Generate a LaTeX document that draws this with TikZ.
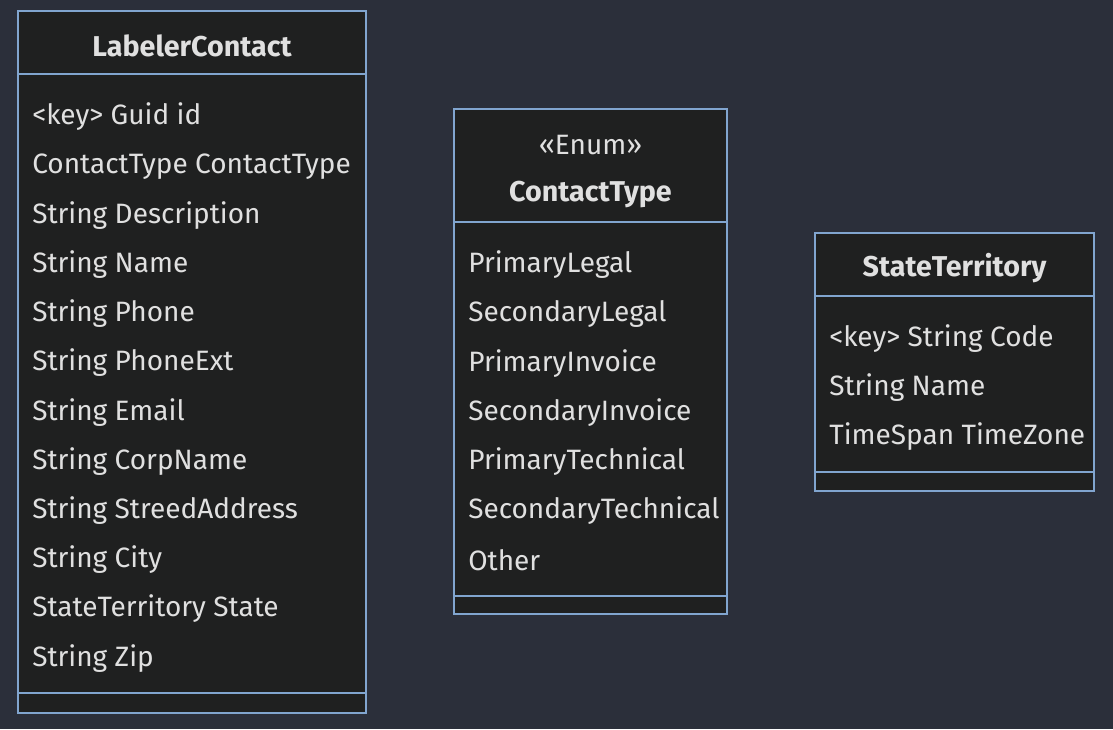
\documentclass[tikz,border=0pt]{standalone}
\usepackage{fontspec}
\setmainfont{Fira Sans}
\usepackage{tikz}
\definecolor{pagebg}{HTML}{2B2F3A}
\definecolor{boxbg}{HTML}{1F2020}
\definecolor{boxline}{HTML}{81A5CF}
\definecolor{boxtext}{HTML}{E0E0E0}
\begin{document}
\begin{tikzpicture}[x=0.75pt, y=-0.75pt,
    classbox/.style={draw=boxline, fill=boxbg, line width=1.2pt},
    divider/.style={draw=boxline, line width=1.2pt},
    title/.style={text=boxtext, font=\fontsize{21.5}{25}\selectfont\bfseries, inner sep=0pt},
    stereo/.style={text=boxtext, font=\fontsize{21}{25}\selectfont, inner sep=0pt},
    member/.style={text=boxtext, font=\fontsize{21}{25}\selectfont, inner sep=0pt, anchor=west}]
  \fill[pagebg] (0,0) rectangle (1113,729);
  \useasboundingbox (0,0) rectangle (1113,729);

  \draw[classbox] (18,11) rectangle (366,713);
  \draw[divider] (18,74) -- (366,74) (18,693) -- (366,693);
  \node[title] (lc) at (192,46) {LabelerContact};
  \foreach \txt [count=\i] in {<key> Guid id, ContactType ContactType, String Description,
      String Name, String Phone, String PhoneExt, String Email, String CorpName,
      String StreedAddress, String City, StateTerritory State, String Zip}
    \node[member] (lc-\i) at (32,{117+49.2*(\i-1)}) {\txt};

  \draw[classbox] (454,109) rectangle (727,614);
  \draw[divider] (454,222) -- (727,222) (454,596) -- (727,596);
  \node[stereo] (ct-s) at (590.5,145) {«Enum»};
  \node[title] (ct) at (590.5,194) {ContactType};
  \foreach \txt [count=\i] in {PrimaryLegal, SecondaryLegal, PrimaryInvoice,
      SecondaryInvoice, PrimaryTechnical, SecondaryTechnical, Other}
    \node[member] (ct-\i) at (468,{265+49.2*(\i-1)}) {\txt};

  \draw[classbox] (815,233) rectangle (1094,491);
  \draw[divider] (815,296) -- (1094,296) (815,472) -- (1094,472);
  \node[title] (st) at (954.5,268) {StateTerritory};
  \foreach \txt [count=\i] in {<key> String Code, String Name, TimeSpan TimeZone}
    \node[member] (st-\i) at (829,{339+49*(\i-1)}) {\txt};
\end{tikzpicture}
\end{document}
